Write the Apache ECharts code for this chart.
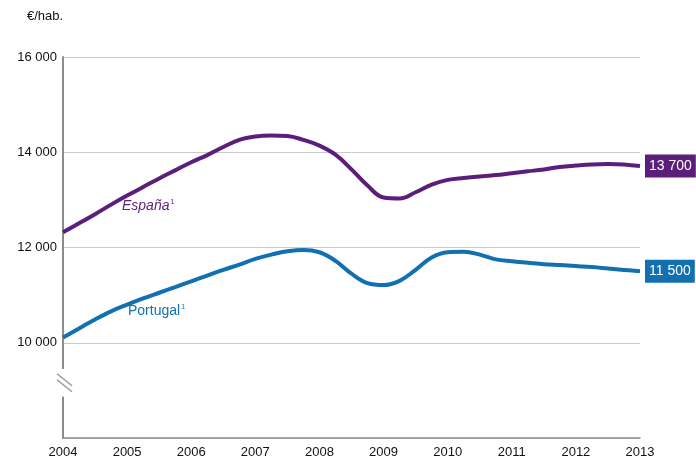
<!DOCTYPE html>
<html>
<head>
<meta charset="utf-8">
<script src="https://cdn.jsdelivr.net/npm/echarts@6/dist/echarts.min.js"></script>
<style>
html, body { margin: 0; padding: 0; background: #fff; }
#chart { width: 696px; height: 460px; }
</style>
</head>
<body>
<div id="chart"></div>
<script>
// quarterly points, 2004 Q1 .. 2013 Q1
var years = [
  2004, 2004.25, 2004.5, 2004.75, 2005, 2005.25, 2005.5, 2005.75,
  2006, 2006.25, 2006.5, 2006.75, 2007, 2007.25, 2007.5, 2007.75,
  2008, 2008.25, 2008.5, 2008.75, 2009, 2009.25, 2009.5, 2009.75,
  2010, 2010.25, 2010.5, 2010.75, 2011, 2011.25, 2011.5, 2011.75,
  2012, 2012.25, 2012.5, 2012.75, 2013
];
var espana = [
  12320, 12510, 12700, 12900, 13090, 13270, 13450, 13620,
  13790, 13940, 14110, 14260, 14330, 14350, 14340, 14260,
  14140, 13950, 13640, 13300, 13050, 13030, 13160, 13320,
  13420, 13460, 13490, 13520, 13560, 13600, 13640, 13690,
  13720, 13745, 13755, 13745, 13710
];
var portugal = [
  10110, 10300, 10490, 10660, 10800, 10930, 11050, 11170,
  11290, 11410, 11530, 11640, 11760, 11850, 11920, 11950,
  11900, 11720, 11450, 11250, 11210, 11300, 11530, 11790,
  11900, 11910, 11850, 11750, 11710, 11680, 11650, 11630,
  11610, 11590, 11560, 11530, 11500
];
var endLabels = ['13 700', '11 500'];

var purple = '#5b1f7b';
var blue = '#1270b0';

function pairs(vals) {
  return vals.map(function (v, i) { return [years[i], v]; });
}
function fmt(v) {
  return String(v).replace(/\B(?=(\d{3})+(?!\d))/g, ' ');
}

var myChart = echarts.init(document.getElementById('chart'));
var option = {
  animation: false,
  textStyle: { fontFamily: 'Liberation Sans' },
  grid: { left: 63, right: 56, top: 57, bottom: 22 },
  xAxis: {
    type: 'value',
    min: 2004,
    max: 2013,
    interval: 1,
    axisLine: { show: true, onZero: false, lineStyle: { color: '#8c8c8c', width: 1.5 } },
    axisTick: { show: false },
    splitLine: { show: false },
    axisLabel: { color: '#111', fontSize: 13, margin: 8, formatter: function (v) { return String(v); } }
  },
  yAxis: {
    type: 'value',
    min: 8000,
    max: 16000,
    interval: 2000,
    axisLine: { show: true, lineStyle: { color: '#8c8c8c', width: 2 } },
    axisTick: { show: false },
    splitLine: { show: true, lineStyle: { color: '#c9c9c9', width: 1 } },
    axisLabel: {
      color: '#111', fontSize: 13, margin: 6,
      formatter: function (v) { return v === 8000 ? '' : fmt(v); }
    }
  },
  series: [{
    name: 'España',
    type: 'line',
    smooth: 0.4,
    symbol: 'none',
    data: pairs(espana),
    lineStyle: { color: purple, width: 4 },
    itemStyle: { color: purple },
    endLabel: {
      show: true,
      formatter: endLabels[0],
      color: '#fff',
      fontSize: 14,
      backgroundColor: purple,
      padding: [5, 4, 4, 4],
      distance: 5
    }
  }, {
    name: 'Portugal',
    type: 'line',
    smooth: 0.4,
    symbol: 'none',
    data: pairs(portugal),
    lineStyle: { color: blue, width: 4 },
    itemStyle: { color: blue },
    endLabel: {
      show: true,
      formatter: endLabels[1],
      color: '#fff',
      fontSize: 14,
      backgroundColor: blue,
      padding: [5, 4, 4, 4],
      distance: 5
    }
  }]
};
myChart.setOption(option);

// axis break mark
var ax = myChart.convertToPixel({ xAxisIndex: 0 }, 2004);
var yTop = myChart.convertToPixel({ yAxisIndex: 0 }, 9450);
var yBot = myChart.convertToPixel({ yAxisIndex: 0 }, 8870);
var mid = (yTop + yBot) / 2;
myChart.setOption({
  graphic: [
    { type: 'rect', z: 100, shape: { x: ax - 3, y: yTop, width: 6, height: yBot - yTop }, style: { fill: '#fff' } },
    { type: 'line', z: 101, shape: { x1: ax - 6, y1: mid - 9, x2: ax + 9, y2: mid + 3 }, style: { stroke: '#999', lineWidth: 1.5 } },
    { type: 'line', z: 101, shape: { x1: ax - 6, y1: mid - 3, x2: ax + 9, y2: mid + 9 }, style: { stroke: '#999', lineWidth: 1.5 } },
    { type: 'text', left: 27, top: 10, style: { text: '€/hab.', fill: '#111', font: '13px Liberation Sans' } },
    {
      type: 'text', left: 122, top: 199,
      style: {
        text: '{a|España}{s|1}',
        rich: {
          a: { fill: purple, fontSize: 14, fontStyle: 'italic', fontFamily: 'Liberation Sans' },
          s: { fill: purple, fontSize: 7, verticalAlign: 'top', padding: [0, 0, 8, 1], fontFamily: 'Liberation Sans' }
        }
      }
    },
    {
      type: 'text', left: 128, top: 304,
      style: {
        text: '{a|Portugal}{s|1}',
        rich: {
          a: { fill: blue, fontSize: 14, fontFamily: 'Liberation Sans' },
          s: { fill: blue, fontSize: 7, verticalAlign: 'top', padding: [0, 0, 8, 1], fontFamily: 'Liberation Sans' }
        }
      }
    }
  ]
});

window.addEventListener('resize', function () {
  myChart.resize();
});
</script>
</body>
</html>
